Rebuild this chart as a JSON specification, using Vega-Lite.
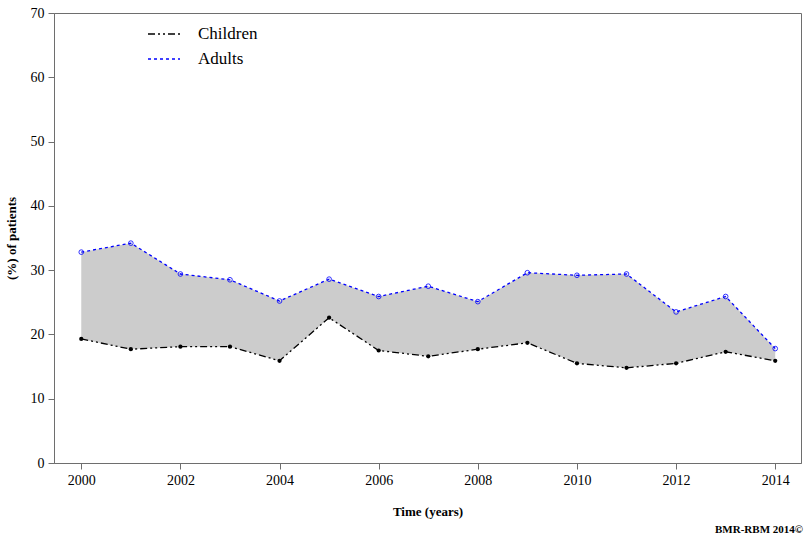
{
  "$schema": "https://vega.github.io/schema/vega-lite/v6.json",
  "autosize": "none",
  "width": 747,
  "height": 450,
  "padding": {"left": 54, "top": 13, "right": 3, "bottom": 70},
  "background": "white",
  "config": {
    "view": {"stroke": "#6e6e6e", "strokeWidth": 1},
    "font": "Times New Roman",
    "style": {
      "guide-label": {"font": "Times New Roman"},
      "guide-title": {"font": "Times New Roman"}
    },
    "axis": {
      "grid": false,
      "domainColor": "#6e6e6e",
      "tickColor": "#6e6e6e",
      "labelFont": "Times New Roman",
      "labelFontSize": 14,
      "labelColor": "black",
      "titleFont": "Times New Roman",
      "titleFontSize": 13,
      "titleFontWeight": "bold",
      "titleColor": "black",
      "tickSize": 6
    },
    "legend": {"labelFont": "Times New Roman"},
    "title": {"font": "Times New Roman"}
  },
  "data": {
    "values": [
      {"year": 2000, "Children": 19.3, "Adults": 32.8},
      {"year": 2001, "Children": 17.7, "Adults": 34.2},
      {"year": 2002, "Children": 18.1, "Adults": 29.4},
      {"year": 2003, "Children": 18.1, "Adults": 28.5},
      {"year": 2004, "Children": 15.9, "Adults": 25.2},
      {"year": 2005, "Children": 22.6, "Adults": 28.6},
      {"year": 2006, "Children": 17.5, "Adults": 25.9},
      {"year": 2007, "Children": 16.6, "Adults": 27.5},
      {"year": 2008, "Children": 17.7, "Adults": 25.1},
      {"year": 2009, "Children": 18.7, "Adults": 29.6},
      {"year": 2010, "Children": 15.5, "Adults": 29.2},
      {"year": 2011, "Children": 14.8, "Adults": 29.4},
      {"year": 2012, "Children": 15.5, "Adults": 23.5},
      {"year": 2013, "Children": 17.3, "Adults": 25.9},
      {"year": 2014, "Children": 15.9, "Adults": 17.8}
    ]
  },
  "title": {
    "text": "BMR-RBM 2014©",
    "orient": "bottom",
    "anchor": "end",
    "font": "Times New Roman",
    "fontSize": 11,
    "fontWeight": "bold",
    "color": "black",
    "offset": 6,
    "dx": 2
  },
  "layer": [
    {
      "mark": {"type": "area", "color": "#cccccc", "opacity": 1},
      "encoding": {
        "x": {
          "field": "year",
          "type": "quantitative",
          "scale": {"domain": [1999.45, 2014.52], "nice": false, "zero": false},
          "axis": {
            "values": [2000, 2002, 2004, 2006, 2008, 2010, 2012, 2014],
            "format": "d",
            "title": "Time (years)",
            "titlePadding": 18,
            "labelPadding": 4,
            "labelFont": "Times New Roman",
            "titleFont": "Times New Roman"
          }
        },
        "y": {
          "field": "Adults",
          "type": "quantitative",
          "scale": {"domain": [0, 70], "nice": false},
          "axis": {
            "values": [0, 10, 20, 30, 40, 50, 60, 70],
            "title": "(%) of patients",
            "titlePadding": 12,
            "labelPadding": 4,
            "labelFont": "Times New Roman",
            "titleFont": "Times New Roman"
          }
        },
        "y2": {"field": "Children"}
      }
    },
    {
      "transform": [{"fold": ["Children", "Adults"], "as": ["group", "value"]}],
      "mark": {"type": "line", "strokeWidth": 1.3},
      "encoding": {
        "x": {"field": "year", "type": "quantitative"},
        "y": {"field": "value", "type": "quantitative"},
        "color": {
          "field": "group",
          "type": "nominal",
          "scale": {"domain": ["Children", "Adults"], "range": ["black", "blue"]},
          "legend": {
            "orient": "none",
            "legendX": 93,
            "legendY": 4,
            "title": null,
            "symbolType": "stroke",
            "symbolSize": 1024,
            "symbolStrokeWidth": 1.6,
            "labelFont": "Times New Roman",
            "labelFontSize": 17,
            "labelColor": "black",
            "rowPadding": -10,
            "labelOffset": 17
          }
        },
        "strokeDash": {
          "field": "group",
          "type": "nominal",
          "scale": {"domain": ["Children", "Adults"], "range": [[7, 3, 2, 3, 2, 3], [3, 3]]},
          "legend": {
            "orient": "none",
            "legendX": 93,
            "legendY": 4,
            "title": null,
            "symbolType": "stroke",
            "symbolSize": 1024,
            "symbolStrokeWidth": 1.6,
            "labelFont": "Times New Roman",
            "labelFontSize": 17,
            "labelColor": "black",
            "rowPadding": -10,
            "labelOffset": 17
          }
        }
      }
    },
    {
      "mark": {"type": "point", "filled": true, "color": "black", "size": 18, "opacity": 1},
      "encoding": {
        "x": {"field": "year", "type": "quantitative"},
        "y": {"field": "Children", "type": "quantitative"}
      }
    },
    {
      "mark": {"type": "point", "filled": false, "color": "blue", "size": 22, "strokeWidth": 0.8, "opacity": 1},
      "encoding": {
        "x": {"field": "year", "type": "quantitative"},
        "y": {"field": "Adults", "type": "quantitative"}
      }
    }
  ]
}
